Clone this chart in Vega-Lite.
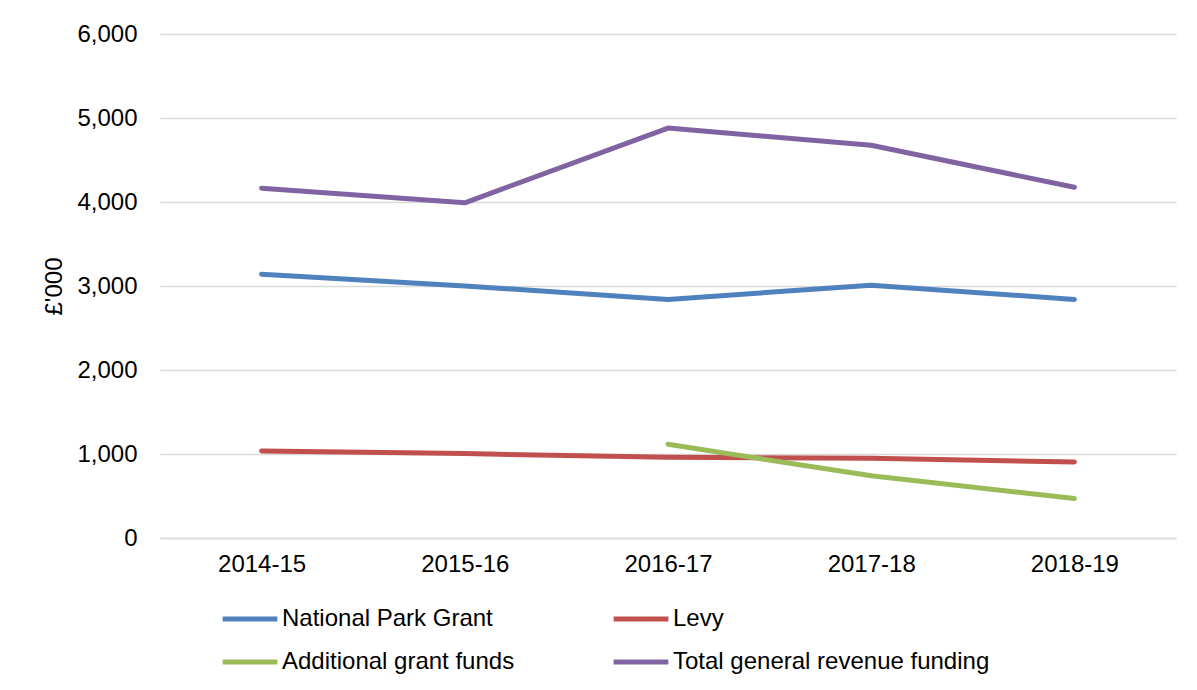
{
  "$schema": "https://vega.github.io/schema/vega-lite/v6.json",
  "width": 1016,
  "height": 504,
  "autosize": {"type": "none"},
  "padding": {"left": 160, "top": 34, "right": 21, "bottom": 152},
  "background": "white",
  "data": {
    "values": [
      {"year": "2014-15", "series": "National Park Grant", "value": 3140},
      {"year": "2015-16", "series": "National Park Grant", "value": 3000},
      {"year": "2016-17", "series": "National Park Grant", "value": 2840},
      {"year": "2017-18", "series": "National Park Grant", "value": 3010},
      {"year": "2018-19", "series": "National Park Grant", "value": 2840},
      {"year": "2014-15", "series": "Levy", "value": 1035},
      {"year": "2015-16", "series": "Levy", "value": 1005},
      {"year": "2016-17", "series": "Levy", "value": 960},
      {"year": "2017-18", "series": "Levy", "value": 950},
      {"year": "2018-19", "series": "Levy", "value": 905},
      {"year": "2016-17", "series": "Additional grant funds", "value": 1115},
      {"year": "2017-18", "series": "Additional grant funds", "value": 740},
      {"year": "2018-19", "series": "Additional grant funds", "value": 470},
      {"year": "2014-15", "series": "Total general revenue funding", "value": 4165},
      {"year": "2015-16", "series": "Total general revenue funding", "value": 3990},
      {"year": "2016-17", "series": "Total general revenue funding", "value": 4880},
      {"year": "2017-18", "series": "Total general revenue funding", "value": 4675},
      {"year": "2018-19", "series": "Total general revenue funding", "value": 4175}
    ]
  },
  "mark": {"type": "line", "strokeWidth": 5, "strokeCap": "round", "strokeJoin": "round"},
  "encoding": {
    "x": {
      "field": "year", "type": "ordinal", "title": null,
      "axis": {"labelAngle": 0, "ticks": false, "domain": true, "domainColor": "#d9d9d9", "domainWidth": 1.5, "labelPadding": 14, "labelFontSize": 24, "labelColor": "#000000", "labelFont": "Liberation Sans"}
    },
    "y": {
      "field": "value", "type": "quantitative", "title": "£'000",
      "scale": {"domain": [0, 6000]},
      "axis": {"values": [0, 1000, 2000, 3000, 4000, 5000, 6000], "format": ",d", "ticks": false, "domain": false, "gridColor": "#d9d9d9", "gridWidth": 1.5, "labelPadding": 23, "labelFontSize": 24, "labelColor": "#000000", "labelFont": "Liberation Sans", "titleFont": "Liberation Sans", "titleFontSize": 24, "titleFontWeight": "normal", "titleColor": "#000000", "titlePadding": 10}
    },
    "color": {
      "field": "series", "type": "nominal",
      "scale": {
        "domain": ["National Park Grant", "Levy", "Additional grant funds", "Total general revenue funding"],
        "range": ["#4f81bd", "#c0504d", "#9bbb59", "#8064a2"]
      },
      "legend": {
        "title": null, "orient": "none", "legendX": 60, "legendY": 555, "columns": 2,
        "direction": "horizontal",
        "symbolType": "stroke", "symbolSize": 3000, "symbolStrokeWidth": 5,
        "labelFontSize": 24, "labelFont": "Liberation Sans", "labelColor": "#000000",
        "labelOffset": 2, "columnPadding": 88, "rowPadding": 1, "labelLimit": 500
      }
    }
  },
  "config": {"view": {"stroke": null}}
}
